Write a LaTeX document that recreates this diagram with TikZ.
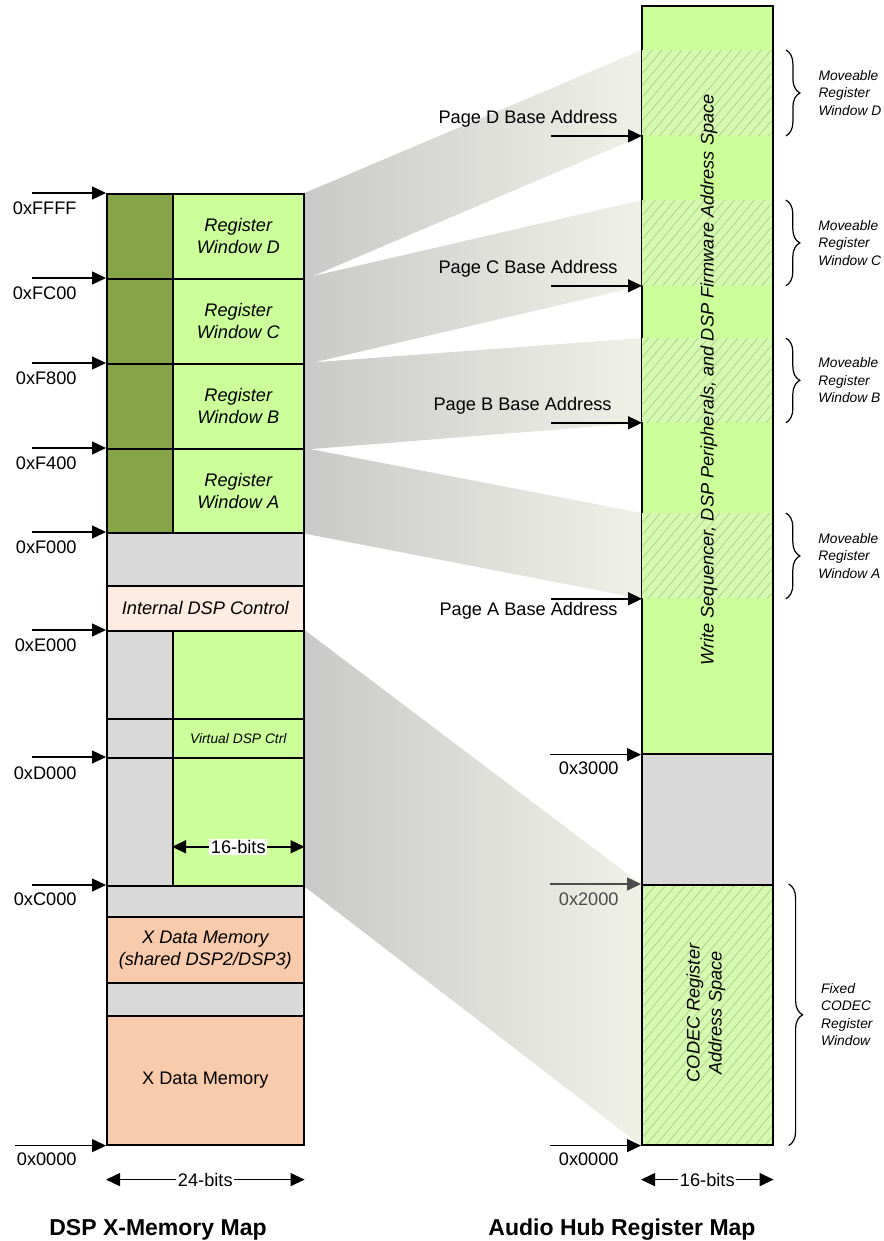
\documentclass[tikz,border=0pt]{standalone}
\usepackage{fontspec}
\setmainfont{Liberation Sans}
\usepackage{tikz}
\usetikzlibrary{arrows.meta, positioning}
\usetikzlibrary{decorations.pathreplacing, patterns.meta}
\usetikzlibrary{backgrounds}
\definecolor{regGreen}{HTML}{CCFF99}
\definecolor{winOlive}{HTML}{86A448}
\definecolor{memGray}{HTML}{D9D9D9}
\definecolor{ctrlPeach}{HTML}{FCECE2}
\definecolor{dataPeach}{HTML}{F8CBAD}
\definecolor{hatchFill}{HTML}{D6F9B2}
\definecolor{hatchLine}{HTML}{B2D38C}
\definecolor{fanDark}{HTML}{C9C9C9}
\definecolor{fanLight}{HTML}{EFF1E7}
\newcommand\mapfont{\fontsize{9.1pt}{11pt}\selectfont}
\newcommand\smallnote{\fontsize{6.9pt}{8.75pt}\selectfont}
\newcommand\maptitle{\fontsize{11.5pt}{14pt}\selectfont\bfseries}
\tikzset{sz/.style 2 args={minimum width=#1*0.5pt, minimum height=#2*0.5pt}}

\begin{document}
\begin{tikzpicture}[
  x=0.5pt, y=-0.5pt,
  cell/.style={rectangle, draw=black, line width=0.8pt, anchor=north west,
               inner sep=0pt, align=center, font=\mapfont\itshape},
  win/.style={rectangle, anchor=north west, inner sep=0pt,
              preaction={fill=hatchFill},
              pattern={Lines[angle=50,distance=3.8pt,line width=0.45pt]},
              pattern color=hatchLine},
  fan/.style={left color=fanDark, right color=fanLight},
  ptr/.style={-{Triangle[length=7pt,width=6.5pt]}, line width=0.7pt, black},
  dim/.style={{Triangle[length=7pt,width=6.5pt]}-{Triangle[length=7pt,width=6.5pt]},
              line width=0.7pt, black},
  dimlab/.style={fill=white, inner sep=0.8pt, font=\mapfont},
  addr/.style={anchor=east, inner sep=0pt, font=\mapfont},
  brc/.style={decorate, decoration={brace, amplitude=7pt}, line width=0.6pt},
  note/.style={right=16pt, inner sep=0pt, align=left, font=\smallnote\itshape}]
\useasboundingbox (0,0) rectangle (883,1241);
% --- DSP X-memory map, register windows on top ---
\node[cell, fill=winOlive, sz={66}{85}] (oD) at (106,193) {};
\node[cell, fill=regGreen, sz={131}{85}] (wD) at (172,193) {Register\\Window D};
\node[cell, fill=winOlive, sz={66}{85}] (oC) at (106,278) {};
\node[cell, fill=regGreen, sz={131}{85}] (wC) at (172,278) {Register\\Window C};
\node[cell, fill=winOlive, sz={66}{85}] (oB) at (106,363) {};
\node[cell, fill=regGreen, sz={131}{85}] (wB) at (172,363) {Register\\Window B};
\node[cell, fill=winOlive, sz={66}{84}] (oA) at (106,448) {};
\node[cell, fill=regGreen, sz={131}{84}] (wA) at (172,448) {Register\\Window A};
\node[cell, fill=memGray, sz={197}{53}] (gF) at (106,532) {};
\node[cell, fill=ctrlPeach, sz={197}{45}] (ctrl) at (106,585) {Internal DSP Control};
% codec window area, 16 bits wide
\node[cell, fill=memGray, sz={66}{88}] (gE) at (106,630) {};
\node[cell, fill=regGreen, sz={131}{88}] (fE) at (172,630) {};
\node[cell, fill=memGray, sz={66}{39}] (gV) at (106,718) {};
\node[cell, fill=regGreen, sz={131}{39}, font=\smallnote\itshape] (virt) at (172,718) {Virtual DSP Ctrl};
\node[cell, fill=memGray, sz={66}{128}] (gD) at (106,757) {};
\node[cell, fill=regGreen, sz={131}{128}] (fD) at (172,757) {};
% data memory
\node[cell, fill=memGray, sz={197}{31}] (gC) at (106,885) {};
\node[cell, fill=dataPeach, sz={197}{66}] (xsh) at (106,916) {X Data Memory\\(shared DSP2/DSP3)};
\node[cell, fill=memGray, sz={197}{33}] (gX) at (106,982) {};
\node[cell, fill=dataPeach, sz={197}{129}, font=\mapfont] (xmem) at (106,1015) {X Data Memory};
% --- audio hub register map ---
\node[cell, fill=regGreen, sz={131}{748}] (fw) at (641,5) {};
\node[win, sz={129}{85}] (rD) at (642,50) {};
\node[win, sz={129}{85}] (rC) at (642,200) {};
\node[win, sz={129}{84}] (rB) at (642,338) {};
\node[win, sz={129}{85}] (rA) at (642,513) {};
\node[cell, fill=memGray, sz={131}{131}] (rsv) at (641,753) {};
\node[cell, win, draw=black, sz={131}{260}] (codec) at (641,884) {};
\node[rotate=90, font=\mapfont\itshape] (fwlab) at (709,380)
  {Write Sequencer, DSP Peripherals, and DSP Firmware Address Space};
\node[rotate=90, align=center, font=\mapfont\itshape] (cdlab) at (706,1013)
  {CODEC Register\\Address Space};
% mapping fans
\begin{scope}[on background layer]
\shade[fan] (wD.north east) -- (rD.north west) -- (rD.south west) -- (wD.south east) -- cycle;
\shade[fan] (wC.north east) -- (rC.north west) -- (rC.south west) -- (wC.south east) -- cycle;
\shade[fan] (wB.north east) -- (rB.north west) -- (rB.south west) -- (wB.south east) -- cycle;
\shade[fan] (wA.north east) -- (rA.north west) -- (rA.south west) -- (wA.south east) -- cycle;
\shade[fan] (fE.north east) -- (codec.north west) -- (codec.south west) -- (fD.south east) -- cycle;
\end{scope}
% left addresses
\draw[ptr] ([xshift=-37pt]oD.north west) -- (oD.north west);
\draw[ptr] ([xshift=-37pt]oC.north west) -- (oC.north west);
\draw[ptr] ([xshift=-37pt]oB.north west) -- (oB.north west);
\draw[ptr] ([xshift=-37pt]oA.north west) -- (oA.north west);
\draw[ptr] ([xshift=-37pt]gF.north west) -- (gF.north west);
\draw[ptr] ([xshift=-37pt]gE.north west) -- (gE.north west);
\draw[ptr] ([xshift=-37pt]gD.north west) -- (gD.north west);
\draw[ptr] ([xshift=-37pt]gC.north west) -- (gC.north west);
\draw[ptr] ([xshift=-45.5pt]xmem.south west) -- (xmem.south west);
\node[addr] (aFFFF) at (77,208) {0xFFFF};
\node[addr] (aFC00) at (77,293) {0xFC00};
\node[addr] (aF800) at (77,378) {0xF800};
\node[addr] (aF400) at (77,463) {0xF400};
\node[addr] (aF000) at (77,547) {0xF000};
\node[addr] (aE000) at (77,645) {0xE000};
\node[addr] (aD000) at (77,773) {0xD000};
\node[addr] (aC000) at (77,899) {0xC000};
\node[addr] (aX0000) at (77,1159) {0x0000};
% page base pointers
\draw[ptr] ([xshift=-45.5pt]rD.south west) -- (rD.south west);
\draw[ptr] ([xshift=-45.5pt]rC.south west) -- (rC.south west);
\draw[ptr] ([xshift=-45.5pt]rB.south west) -- (rB.south west);
\draw[ptr] ([xshift=-45.5pt]rA.south west) -- (rA.south west);
\node[addr] (pD) at (618,119) {Page D Base Address};
\node[addr] (pC) at (618,269) {Page C Base Address};
\node[addr] (pB) at (612,406) {Page B Base Address};
\node[addr] (pA) at (618,611) {Page A Base Address};
% right addresses
\draw[ptr] ([xshift=-45.5pt]fw.south west) -- (fw.south west);
\draw[ptr, black!70] ([xshift=-45.5pt]codec.north west) -- (codec.north west);
\draw[ptr] ([xshift=-45.5pt]codec.south west) -- (codec.south west);
\node[addr] (a3000) at (619,768) {0x3000};
\node[addr, text=black!70] (a2000) at (619,899) {0x2000};
\node[addr] (aR0000) at (619,1159) {0x0000};
% widths
\draw[dim] ([yshift=-12.5pt]fD.west) -- node[dimlab] {16-bits} ([yshift=-12.5pt]fD.east);
\draw[dim] ([yshift=-17pt]xmem.south west) -- node[dimlab] {24-bits} ([yshift=-17pt]xmem.south east);
\draw[dim] ([yshift=-17pt]codec.south west) -- node[dimlab] {16-bits} ([yshift=-17pt]codec.south east);
% window braces
\draw[brc] ([xshift=7pt]rD.north east) -- node[note] {Moveable\\Register\\Window D} ([xshift=7pt]rD.south east);
\draw[brc] ([xshift=7pt]rC.north east) -- node[note] {Moveable\\Register\\Window C} ([xshift=7pt]rC.south east);
\draw[brc] ([xshift=7pt]rB.north east) -- node[note] {Moveable\\Register\\Window B} ([xshift=7pt]rB.south east);
\draw[brc] ([xshift=7pt]rA.north east) -- node[note] {Moveable\\Register\\Window A} ([xshift=7pt]rA.south east);
\draw[brc] ([xshift=7.5pt]codec.north east) -- node[note] {Fixed\\CODEC\\Register\\Window} ([xshift=7.5pt]codec.south east);
% titles
\node[font=\maptitle] (ttlX) at (158,1230) {DSP X-Memory Map};
\node[font=\maptitle] (ttlA) at (622,1230) {Audio Hub Register Map};
\end{tikzpicture}
\end{document}
